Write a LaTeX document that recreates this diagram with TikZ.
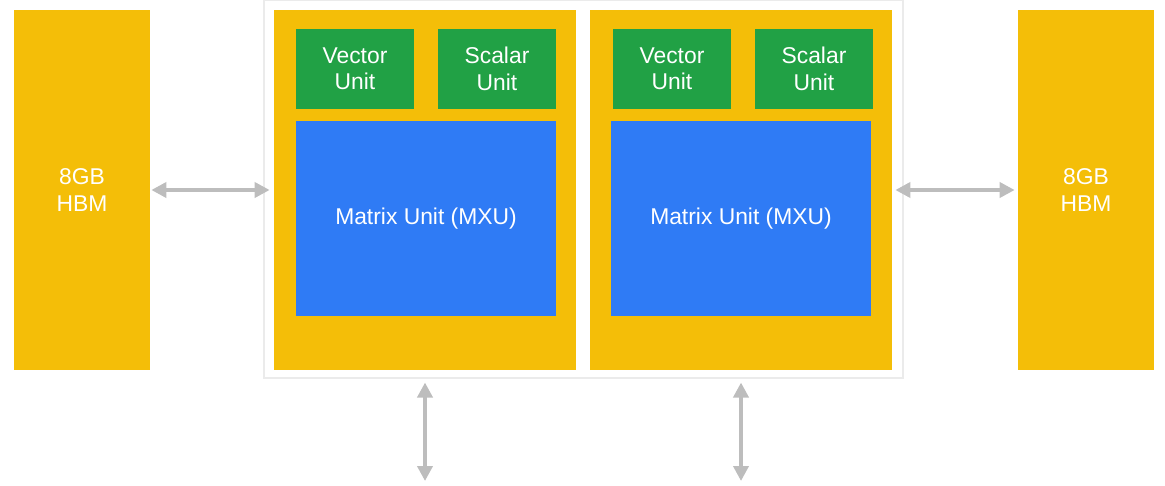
\documentclass[tikz,border=0pt]{standalone}
\usepackage{fontspec}
\setsansfont{Liberation Sans}
\usepackage{tikz}
\usetikzlibrary{arrows.meta, positioning}

\definecolor{tpuyellow}{HTML}{F4BE08}
\definecolor{tpugreen}{HTML}{21A145}
\definecolor{tpublue}{HTML}{2F7BF5}
\definecolor{linkgray}{HTML}{BDBDBD}

\tikzset{
  unitfont/.style={font=\sffamily\fontsize{13}{15}\selectfont, text=white, align=center},
  hbm/.style={fill=tpuyellow, minimum width=2.72cm, minimum height=7.2cm, unitfont},
  core/.style={fill=tpuyellow, minimum width=6.04cm, minimum height=7.2cm},
  small/.style={fill=tpugreen, minimum width=2.36cm, minimum height=1.6cm, unitfont},
  mxu/.style={fill=tpublue, minimum width=5.2cm, minimum height=3.9cm, unitfont},
  link/.style={draw=linkgray, line width=2.1pt, {Triangle[length=0.3cm, width=0.3cm]}-{Triangle[length=0.3cm, width=0.3cm]}}
}

\begin{document}
\begin{tikzpicture}
  \useasboundingbox (0,0) rectangle (23.3,-9.7);

  % chip outline
  \node[draw=black!8, line width=0.6pt, minimum width=12.78cm, minimum height=7.56cm] (chip) at (11.67,-3.78) {};

  % HBM stacks
  \node[hbm] (hbmL) at (1.64,-3.8) {8GB\\HBM};
  \node[hbm] (hbmR) at (21.72,-3.8) {8GB\\HBM};

  % Two cores
  \node[core] (core1) at (8.5,-3.8) {};
  \node[core] (core2) at (14.82,-3.8) {};

  % Units of core 1
  \node[small] (vec1) at (7.1,-1.38) {Vector\\Unit};
  \node[small] (sca1) at (9.94,-1.38) {Scalar\\Unit};
  \node[mxu] (mxu1) at (8.52,-4.37) {Matrix Unit (MXU)};

  % Units of core 2
  \node[small] (vec2) at (13.44,-1.38) {Vector\\Unit};
  \node[small] (sca2) at (16.28,-1.38) {Scalar\\Unit};
  \node[mxu] (mxu2) at (14.82,-4.37) {Matrix Unit (MXU)};

  % Memory links
  \draw[link, shorten <=0.02cm, shorten >=0.08cm] (hbmL.east) -- (core1.west);
  \draw[link, shorten <=0.06cm, shorten >=0.06cm] (core2.east) -- (hbmR.west);

  % Interconnect
  \coordinate (out1) at (core1 |- 0,-9.7);
  \coordinate (out2) at (core2 |- 0,-9.7);
  \draw[link, shorten <=0.08cm, shorten >=0.08cm] (core1 |- chip.south) -- (out1);
  \draw[link, shorten <=0.08cm, shorten >=0.08cm] (core2 |- chip.south) -- (out2);
\end{tikzpicture}
\end{document}
